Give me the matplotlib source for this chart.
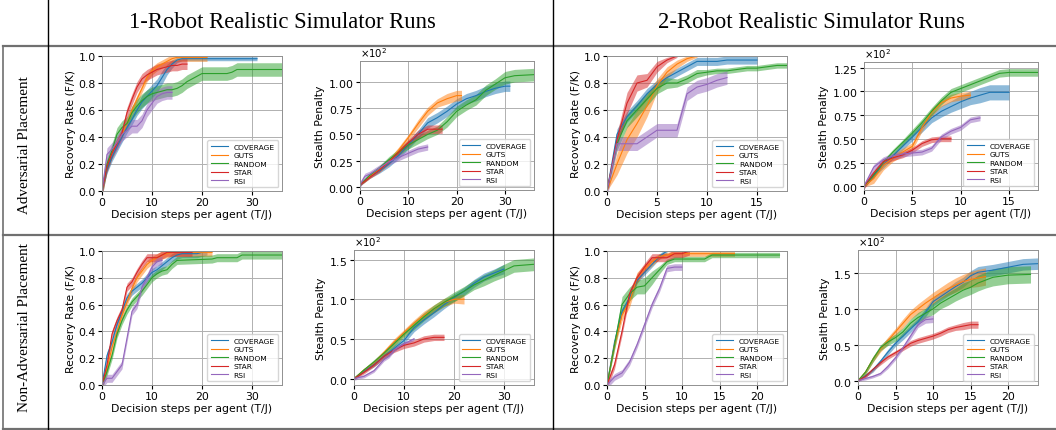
import matplotlib

matplotlib.use("Agg")
import matplotlib.pyplot as plt
import numpy as np
from matplotlib.ticker import MultipleLocator, ScalarFormatter

W, H = 1056, 431

METHODS = ["COVERAGE", "GUTS", "RANDOM", "STAR", "RSI"]
COLORS = ["tab:blue", "tab:orange", "tab:green", "tab:red", "tab:purple"]

COL_TITLES = ["1-Robot Realistic Simulator Runs", "2-Robot Realistic Simulator Runs"]
ROW_TITLES = ["Adversarial Placement", "Non-Adversarial Placement"]
XLABEL = "Decision steps per agent (T/J)"
YLABEL_REC = "Recovery Rate (F/K)"
YLABEL_PEN = "Stealth Penalty"

# ---- adversarial, 1 robot, recovery rate ----
A1R_COVERAGE_X = [0, 1, 2, 3, 4, 5, 6, 7, 8, 9, 10, 11, 12, 13, 14, 15, 16, 18, 31]
A1R_COVERAGE_Y = [0, .16, .25, .33, .40, .47, .53, .60, .66, .70, .74, .78, .84, .90, .94, .97, .98, .98, .98]
A1R_COVERAGE_E = [0, .03, .03, .04, .04, .04, .04, .04, .05, .05, .05, .05, .05, .04, .03, .02, .015, .015, .015]
A1R_GUTS_X = [0, 1, 2, 3, 4, 5, 6, 7, 8, 9, 10, 11, 12, 13, 14, 15, 21]
A1R_GUTS_Y = [0, .20, .28, .36, .42, .50, .60, .68, .76, .84, .89, .92, .94, .96, .98, .99, .99]
A1R_GUTS_E = 0.03
A1R_RANDOM_X = [0, 1, 2, 3, 4, 5, 6, 7, 8, 9, 10, 11, 12, 13, 14, 15, 16, 17, 18, 19, 20, 25, 26, 27, 36]
A1R_RANDOM_Y = [0, .20, .30, .42, .47, .50, .58, .63, .67, .70, .72, .73, .74, .75, .75, .76, .78, .81, .83, .85, .87, .87, .88, .90, .90]
A1R_RANDOM_E = 0.05
A1R_STAR_X = [0, 1, 2, 3, 4, 5, 6, 7, 8, 9, 10, 11, 12, 13, 14, 15, 16, 17]
A1R_STAR_Y = [0, .18, .28, .35, .43, .58, .68, .77, .83, .86, .88, .90, .91, .92, .93, .93, .94, .94]
A1R_STAR_E = 0.04
A1R_RSI_X = [0, 1, 2, 3, 4, 5, 6, 7, 8, 9, 10, 11, 12, 13, 14]
A1R_RSI_Y = [0, .27, .31, .36, .42, .45, .48, .48, .52, .60, .65, .70, .72, .73, .73]
A1R_RSI_E = 0.05

# ---- adversarial, 1 robot, stealth penalty ----
A1S_COVERAGE_X = [0, 2, 4, 6, 8, 10, 12, 14, 16, 18, 20, 22, 24, 26, 28, 30, 31]
A1S_COVERAGE_Y = [2, 10, 15, 22, 30, 40, 50, 61, 66, 72, 79, 84, 87, 91, 94, 96, 96]
A1S_COVERAGE_E = [1, 2, 2, 3, 3, 4, 4, 5, 5, 5, 5, 5, 5, 5, 5, 5, 5]
A1S_GUTS_X = [0, 2, 4, 6, 8, 10, 12, 14, 16, 18, 20, 21]
A1S_GUTS_Y = [2, 10, 16, 24, 35, 47, 60, 72, 80, 84, 87, 87]
A1S_GUTS_E = [1, 2, 2, 3, 3, 3, 4, 4, 4, 5, 5, 5]
A1S_RANDOM_X = [0, 2, 4, 6, 8, 10, 12, 14, 16, 18, 20, 22, 24, 26, 28, 30, 32, 36]
A1S_RANDOM_Y = [2, 11, 18, 26, 33, 40, 45, 50, 54, 62, 72, 78, 83, 92, 98, 104, 106, 107]
A1S_RANDOM_E = [1, 2, 2, 3, 3, 4, 4, 4, 4, 5, 5, 5, 5, 5, 5, 6, 6, 6]
A1S_STAR_X = [0, 2, 4, 6, 8, 10, 12, 14, 17]
A1S_STAR_Y = [2, 9, 16, 24, 33, 42, 50, 55, 55]
A1S_STAR_E = [1, 1, 2, 2, 3, 3, 4, 4, 4]
A1S_RSI_X = [0, 1, 2, 4, 6, 8, 10, 12, 14]
A1S_RSI_Y = [2, 10, 12, 18, 24, 28, 32, 36, 38]
A1S_RSI_E = 3

# ---- adversarial, 2 robots, recovery rate ----
A2R_COVERAGE_X = [0, 1, 2, 3, 4, 5, 6, 7, 8, 9, 10, 11, 12, 13, 14, 15]
A2R_COVERAGE_Y = [0, .42, .55, .63, .72, .79, .84, .88, .92, .96, .96, .96, .97, .97, .97, .97]
A2R_COVERAGE_E = [0, .04, .04, .04, .04, .03, .03, .03, .03, .03, .03, .03, .03, .03, .03, .03]
A2R_GUTS_X = [0, 1, 2, 3, 4, 5, 6, 7, 8, 9]
A2R_GUTS_Y = [0, .20, .38, .50, .63, .78, .88, .94, .98, 1.0]
A2R_GUTS_E = [0, .08, .10, .10, .08, .05, .04, .03, .02, .01]
A2R_RANDOM_X = [0, 1, 2, 3, 4, 5, 6, 7, 8, 9, 10, 11, 12, 13, 14, 15, 16, 17, 18]
A2R_RANDOM_Y = [0, .35, .52, .60, .68, .76, .80, .80, .83, .87, .88, .89, .89, .90, .91, .91, .92, .93, .93]
A2R_RANDOM_E = [0, .05, .05, .05, .05, .04, .04, .03, .03, .03, .02, .02, .02, .02, .02, .02, .02, .02, .02]
A2R_STAR_X = [0, 1, 2, 3, 4, 5, 6, 7]
A2R_STAR_Y = [0, .38, .65, .80, .82, .92, .97, 1.0]
A2R_STAR_E = [0, .05, .08, .06, .05, .04, .02, .01]
A2R_RSI_X = [0, 1, 2, 3, 4, 5, 6, 7, 8, 9, 10, 11, 12]
A2R_RSI_Y = [0, .35, .35, .35, .40, .45, .45, .45, .72, .77, .79, .82, .84]
A2R_RSI_E = 0.05

# ---- adversarial, 2 robots, stealth penalty ----
A2S_COVERAGE_X = [0, 1, 2, 3, 4, 5, 6, 7, 8, 9, 10, 11, 12, 13, 14, 15]
A2S_COVERAGE_Y = [0, 12, 22, 32, 42, 52, 62, 72, 79, 84, 89, 93, 96, 99, 99, 99]
A2S_COVERAGE_E = [1, 2, 3, 3, 4, 4, 5, 5, 6, 6, 7, 7, 8, 8, 8, 8]
A2S_GUTS_X = [0, 1, 2, 3, 4, 5, 6, 7, 8, 9, 10, 11]
A2S_GUTS_Y = [0, 8, 22, 30, 36, 42, 62, 78, 88, 93, 95, 96]
A2S_GUTS_E = [1, 5, 5, 4, 4, 4, 4, 4, 4, 4, 4, 4]
A2S_RANDOM_X = [0, 1, 2, 3, 4, 5, 6, 7, 8, 9, 10, 11, 12, 13, 14, 15, 16, 17, 18]
A2S_RANDOM_Y = [0, 12, 25, 36, 46, 56, 67, 79, 90, 99, 103, 107, 111, 115, 119, 120, 120, 120, 120]
A2S_RANDOM_E = [1, 3, 3, 3, 3, 4, 4, 4, 4, 4, 4, 4, 4, 4, 4, 4, 4, 4, 4]
A2S_STAR_X = [0, 1, 2, 3, 4, 5, 6, 7, 8, 9]
A2S_STAR_Y = [0, 14, 26, 30, 33, 38, 45, 49, 50, 50]
A2S_STAR_E = 3
A2S_RSI_X = [0, 1, 2, 3, 4, 5, 6, 7, 8, 9, 10, 11, 12]
A2S_RSI_Y = [0, 20, 28, 32, 34, 35, 36, 40, 52, 58, 62, 70, 72]
A2S_RSI_E = 3

# ---- non-adversarial, 1 robot, recovery rate ----
N1R_COVERAGE_X = [0, 1, 2, 3, 4, 5, 6, 7, 8, 9, 10, 11, 12, 13, 14, 15, 16, 19, 20, 21]
N1R_COVERAGE_Y = [0, .22, .32, .45, .55, .65, .70, .73, .76, .80, .84, .86, .89, .92, .95, .97, .98, .98, .99, 1.0]
N1R_COVERAGE_E = 0.03
N1R_GUTS_X = [0, 1, 2, 3, 4, 5, 6, 7, 8, 9, 10, 11, 12, 13, 14, 22]
N1R_GUTS_Y = [0, .12, .28, .40, .52, .62, .72, .80, .85, .90, .93, .95, .97, .98, .99, .99]
N1R_GUTS_E = 0.03
N1R_RANDOM_X = [0, 1, 2, 3, 4, 5, 6, 7, 8, 9, 10, 11, 12, 13, 14, 15, 22, 23, 27, 28, 36]
N1R_RANDOM_Y = [0, .10, .22, .38, .48, .56, .62, .66, .70, .75, .80, .83, .85, .86, .90, .93, .94, .95, .95, .97, .97]
N1R_RANDOM_E = 0.03
N1R_STAR_X = [0, 1, 2, 3, 4, 5, 6, 7, 8, 9, 10, 11, 12, 13, 18]
N1R_STAR_Y = [0, .15, .38, .48, .56, .73, .77, .84, .90, .95, .95, .95, .97, .99, .99]
N1R_STAR_E = 0.03
N1R_RSI_X = [0, 1, 2, 3, 4, 5, 6, 7, 8, 9, 10, 11, 12]
N1R_RSI_Y = [0, .05, .05, .10, .15, .35, .55, .60, .73, .80, .88, .92, .93]
N1R_RSI_E = 0.03

# ---- non-adversarial, 1 robot, stealth penalty ----
N1S_COVERAGE_X = [0, 2, 4, 6, 8, 10, 12, 14, 16, 18, 20, 22, 24, 26, 28, 30]
N1S_COVERAGE_Y = [0, 10, 18, 28, 38, 48, 64, 74, 83, 93, 102, 110, 120, 128, 133, 138]
N1S_COVERAGE_E = [1, 2, 3, 3, 4, 4, 5, 5, 5, 5, 5, 5, 5, 5, 5, 6]
N1S_GUTS_X = [0, 2, 4, 6, 8, 10, 12, 14, 16, 18, 20, 22]
N1S_GUTS_Y = [0, 11, 20, 33, 46, 58, 70, 80, 88, 96, 100, 100]
N1S_GUTS_E = [1, 2, 3, 3, 4, 4, 4, 5, 5, 5, 5, 6]
N1S_RANDOM_X = [0, 2, 4, 6, 8, 10, 12, 14, 16, 18, 20, 22, 24, 26, 28, 30, 32, 36]
N1S_RANDOM_Y = [0, 11, 21, 32, 44, 56, 67, 78, 88, 96, 103, 110, 118, 124, 130, 136, 142, 144]
N1S_RANDOM_E = [1, 2, 3, 3, 4, 4, 5, 5, 5, 5, 6, 6, 6, 7, 7, 8, 8, 8]
N1S_STAR_X = [0, 2, 4, 6, 8, 10, 12, 14, 16, 18]
N1S_STAR_Y = [0, 8, 17, 28, 36, 42, 45, 50, 52, 52]
N1S_STAR_E = [1, 2, 2, 3, 3, 4, 4, 4, 4, 4]
N1S_RSI_X = [0, 2, 4, 6, 7, 8, 10, 12]
N1S_RSI_Y = [0, 3, 10, 24, 28, 36, 44, 50]
N1S_RSI_E = 2

# ---- non-adversarial, 2 robots, recovery rate ----
N2R_COVERAGE_X = [0, 1, 2, 3, 4, 5, 6, 7, 8]
N2R_COVERAGE_Y = [0, .32, .55, .65, .78, .84, .90, .96, 1.0]
N2R_COVERAGE_E = 0.02
N2R_GUTS_X = [0, 1, 2, 3, 4, 5, 6, 7, 8, 9, 17]
N2R_GUTS_Y = [0, .30, .52, .62, .80, .87, .92, .96, .97, .98, .98]
N2R_GUTS_E = [0, .03, .04, .04, .04, .03, .03, .02, .02, .02, .02]
N2R_RANDOM_X = [0, 1, 2, 3, 4, 5, 6, 7, 8, 9, 13, 14, 23]
N2R_RANDOM_Y = [0, .30, .60, .68, .73, .74, .80, .86, .92, .94, .94, .97, .97]
N2R_RANDOM_E = [0, .04, .06, .05, .05, .06, .05, .03, .02, .02, .02, .02, .02]
N2R_STAR_X = [0, 1, 2, 3, 4, 5, 6, 7, 8, 9, 10, 11]
N2R_STAR_Y = [0, .15, .40, .68, .80, .88, .95, .95, .95, .98, .98, 1.0]
N2R_STAR_E = 0.03
N2R_RSI_X = [0, 1, 2, 3, 4, 5, 6, 7, 8, 9, 10]
N2R_RSI_Y = [0, .06, .09, .17, .30, .45, .60, .72, .87, .88, .88]
N2R_RSI_E = 0.025

# ---- non-adversarial, 2 robots, stealth penalty ----
N2S_COVERAGE_X = [0, 1, 2, 3, 4, 5, 6, 7, 8, 9, 10, 11, 12, 13, 14, 15, 16, 18, 20, 22, 24]
N2S_COVERAGE_Y = [0, 7, 15, 27, 40, 52, 62, 72, 82, 95, 110, 117, 124, 131, 137, 146, 151, 154, 158, 162, 163]
N2S_COVERAGE_E = [1, 2, 3, 3, 4, 4, 5, 5, 5, 6, 6, 6, 6, 7, 7, 7, 8, 8, 8, 8, 8]
N2S_GUTS_X = [0, 1, 2, 3, 4, 5, 6, 7, 8, 9, 10, 11, 12, 13, 14, 15, 16, 17]
N2S_GUTS_Y = [0, 12, 30, 44, 56, 68, 80, 92, 100, 108, 115, 122, 128, 133, 138, 141, 143, 145]
N2S_GUTS_E = [1, 3, 4, 4, 5, 5, 6, 6, 7, 7, 8, 8, 9, 10, 10, 11, 12, 12]
N2S_RANDOM_X = [0, 1, 2, 3, 4, 5, 6, 7, 8, 9, 10, 11, 12, 13, 14, 15, 16, 17, 18, 20, 23]
N2S_RANDOM_Y = [0, 12, 30, 46, 54, 60, 68, 80, 88, 94, 100, 108, 114, 120, 126, 130, 136, 140, 144, 147, 148]
N2S_RANDOM_E = [1, 3, 4, 4, 5, 5, 6, 6, 7, 7, 8, 8, 9, 9, 10, 10, 11, 11, 12, 12, 12]
N2S_STAR_X = [0, 1, 2, 3, 4, 5, 6, 7, 8, 9, 10, 11, 12, 13, 14, 15, 16]
N2S_STAR_Y = [0, 6, 16, 25, 33, 39, 45, 52, 56, 59, 62, 66, 71, 74, 76, 78, 78]
N2S_STAR_E = [1, 2, 2, 3, 3, 3, 3, 4, 4, 4, 4, 4, 4, 4, 5, 5, 5]
N2S_RSI_X = [0, 1, 2, 3, 4, 5, 6, 7, 8, 9, 10]
N2S_RSI_Y = [0, 3, 6, 10, 20, 32, 46, 62, 78, 85, 86]
N2S_RSI_E = [1, 2, 2, 2, 3, 3, 3, 4, 4, 5, 5]


def series(prefix):
    g = globals()
    return [(g[f"{prefix}_{m}_X"], g[f"{prefix}_{m}_Y"], g[f"{prefix}_{m}_E"]) for m in METHODS]


# (prefix, pixel box left/top/right/bottom, xlim, ylim, ytick step, penalty?)
PANELS = [
    ("A1R", (102, 57, 282, 192), 36, (0, 1), 0.2, False),
    ("A1S", (360, 62, 534, 191), 36, (-3, 120), 25, True),
    ("A2R", (607, 57, 787, 192), 18, (0, 1), 0.2, False),
    ("A2S", (864, 63, 1038, 191), 18, (-4, 131), 25, True),
    ("N1R", (102, 252, 282, 386), 36, (0, 1), 0.2, False),
    ("N1S", (354, 251, 534, 386), 36, (-8, 162), 50, True),
    ("N2R", (607, 252, 787, 386), 24, (0, 1), 0.2, False),
    ("N2S", (858, 251, 1038, 386), 24, (-6, 182), 50, True),
]

FS = 7.8

fig = plt.figure(figsize=(W / 100, H / 100), dpi=100)

# table frame drawn in pixel coordinates
frame = fig.add_axes([0, 0, 1, 1])
frame.set_xlim(0, W)
frame.set_ylim(H, 0)
frame.axis("off")
for yy in (46.5, 236, 430):
    frame.plot([3, W], [yy, yy], color="#707070", lw=1.6)
frame.plot([3, 3], [46.5, 430], color="#707070", lw=1.2)
for xx in (48, 553):
    frame.plot([xx, xx], [0, 430], color="black", lw=1.0)

for cx, title in zip((282, 811), COL_TITLES):
    frame.text(cx, 23, title, ha="center", va="center", fontsize=16.3,
               family="Liberation Serif")
for cy, title in zip((145, 328), ROW_TITLES):
    frame.text(25, cy, title, ha="center", va="center", rotation=90,
               fontsize=10.9, family="Liberation Serif")

for prefix, (l, t, r, b), xmax, ylim, ystep, penalty in PANELS:
    ax = fig.add_axes([l / W, 1 - b / H, (r - l) / W, (b - t) / H])
    for (x, y, e), name, color in zip(series(prefix), METHODS, COLORS):
        x = np.asarray(x, dtype=float)
        y = np.asarray(y, dtype=float)
        e = np.broadcast_to(np.asarray(e, dtype=float), y.shape)
        ax.fill_between(x, y - e, y + e, color=color, alpha=0.5, lw=0)
        ax.plot(x, y, color=color, lw=0.8, label=name)
    ax.set_xlim(0, xmax)
    ax.set_ylim(*ylim)
    ax.yaxis.set_major_locator(MultipleLocator(ystep))
    if penalty:
        fmt = ScalarFormatter(useMathText=True)
        fmt.set_powerlimits((0, 0))
        ax.yaxis.set_major_formatter(fmt)
        ax.yaxis.get_offset_text().set_fontsize(FS - 0.5)
        ax.set_ylabel(YLABEL_PEN, fontsize=FS, labelpad=2)
    else:
        ax.set_ylabel(YLABEL_REC, fontsize=FS, labelpad=2)
    ax.set_xlabel(XLABEL, fontsize=FS, labelpad=1)
    ax.tick_params(labelsize=FS, length=3, pad=1.5)
    ax.grid(True, color="#b0b0b0", lw=0.7)
    ax.set_axisbelow(True)
    for sp in ax.spines.values():
        sp.set_color("#909090")
        sp.set_linewidth(0.7)
    ax.legend(loc="lower right", fontsize=5.4, handlelength=2.3,
              labelspacing=0.3, borderpad=0.45, framealpha=0.8)

fig.savefig("out.png", dpi=100)
